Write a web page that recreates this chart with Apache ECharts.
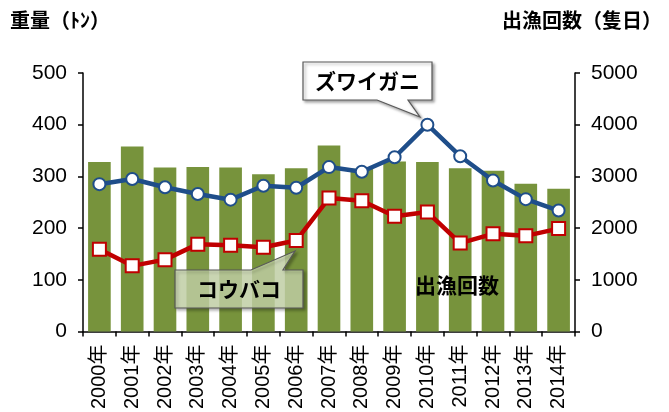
<!DOCTYPE html>
<html>
<head>
<meta charset="utf-8">
<title>ズワイガニ・コウバコ 重量と出漁回数</title>
<script src="https://cdn.jsdelivr.net/npm/echarts@6/dist/echarts.min.js"></script>
<style>body{margin:0;background:#fff}</style>
</head>
<body>
<div id="main" style="width:669px;height:412px;"></div>
<script>
// 年
var years = ['2000年','2001年','2002年','2003年','2004年','2005年','2006年','2007年',
             '2008年','2009年','2010年','2011年','2012年','2013年','2014年'];
// 重量（ﾄﾝ）
var zuwaigani = [285, 295, 279, 266, 255, 282, 278, 318, 309, 337, 400, 339, 292, 256, 234];
var koubako   = [159, 127, 139, 169, 167, 163, 176, 258, 253, 223, 231, 171, 189, 185, 199];
// 出漁回数（隻日）
var shutsuryo = [3280, 3580, 3170, 3180, 3170, 3040, 3160, 3600, 3150, 3290, 3280, 3160, 3110, 2860, 2760];

var numFont = 'Liberation Sans, Arial, sans-serif';
var jpFont = '"Noto Sans CJK JP", sans-serif';

var myChart = echarts.init(document.getElementById('main'));

myChart.setOption({
    animation: false,
    grid: { left: 83, right: 94, top: 73, bottom: 80 },
    xAxis: {
        type: 'category',
        data: years,
        axisLine: { lineStyle: { color: '#000', width: 1.5 } },
        axisTick: { show: true, length: 5, lineStyle: { color: '#000', width: 1.5 } },
        axisLabel: {
            interval: 0, rotate: 90, margin: 13,
            color: '#000', fontSize: 20,
            fontFamily: 'Liberation Sans, "Noto Sans CJK JP", sans-serif',
            padding: [0, 0, 7, 0]
        }
    },
    yAxis: [{
        type: 'value', min: 0, max: 500, interval: 100,
        splitLine: { show: false },
        axisLine: { show: true, lineStyle: { color: '#000', width: 1.5 } },
        axisTick: { show: true, length: 5, lineStyle: { color: '#000', width: 1.5 } },
        axisLabel: { color: '#000', fontSize: 21, fontFamily: numFont, margin: 16 }
    }, {
        type: 'value', min: 0, max: 5000, interval: 1000,
        splitLine: { show: false },
        axisLine: { show: true, lineStyle: { color: '#000', width: 1.5 } },
        axisTick: { show: true, length: 5, lineStyle: { color: '#000', width: 1.5 } },
        axisLabel: {
            color: '#000', fontSize: 21, fontFamily: numFont, margin: 16,
            formatter: function (v) { return String(v); }
        }
    }],
    series: [{
        name: '出漁回数',
        type: 'bar',
        yAxisIndex: 1,
        data: shutsuryo,
        barCategoryGap: '31%',
        itemStyle: { color: '#77933C' },
        z: 1
    }, {
        name: 'ズワイガニ',
        type: 'line',
        data: zuwaigani,
        symbol: 'circle',
        symbolSize: 12,
        lineStyle: { color: '#1F4E8A', width: 4.5 },
        itemStyle: { color: '#fff', borderColor: '#1F4E8A', borderWidth: 2 },
        z: 3
    }, {
        name: 'コウバコ',
        type: 'line',
        data: koubako,
        symbol: 'rect',
        symbolSize: 13,
        lineStyle: { color: '#C00000', width: 4.5 },
        itemStyle: { color: '#fff', borderColor: '#C00000', borderWidth: 2 },
        z: 3
    }],
    graphic: [
        { type: 'text', left: 10, top: 10, z: 10,
          style: { text: '重量（ﾄﾝ）', fontSize: 20, fontWeight: 'bold', fontFamily: jpFont, fill: '#000' } },
        { type: 'text', right: 7, top: 10, z: 10,
          style: { text: '出漁回数（隻日）', fontSize: 20, fontWeight: 'bold', fontFamily: jpFont, fill: '#000' } },
        // ズワイガニ callout
        { type: 'polygon', z: 20,
          shape: { points: [[303, 62], [432, 62], [432, 100], [408, 100], [420, 117], [377, 100], [303, 100]] },
          style: { fill: '#fff', stroke: '#595959', lineWidth: 1.2,
                   shadowBlur: 3, shadowOffsetX: 2, shadowOffsetY: 2, shadowColor: 'rgba(0,0,0,0.35)' } },
        { type: 'text', z: 21, x: 367.5, y: 81,
          style: { text: 'ズワイガニ', fontSize: 21, fontWeight: 'bold', fontFamily: jpFont, fill: '#000',
                   align: 'center', verticalAlign: 'middle' } },
        // コウバコ callout
        { type: 'polygon', z: 20,
          shape: { points: [[175, 270], [251, 270], [295, 251], [283, 270], [303, 270], [303, 308], [175, 308]] },
          style: { fill: 'rgba(205,220,175,0.78)', stroke: '#595959', lineWidth: 1.2,
                   shadowBlur: 3, shadowOffsetX: 2, shadowOffsetY: 2, shadowColor: 'rgba(0,0,0,0.35)' } },
        { type: 'text', z: 21, x: 239, y: 289,
          style: { text: 'コウバコ', fontSize: 21, fontWeight: 'bold', fontFamily: jpFont, fill: '#000',
                   align: 'center', verticalAlign: 'middle' } },
        { type: 'text', z: 21, x: 457, y: 285,
          style: { text: '出漁回数', fontSize: 21, fontWeight: 'bold', fontFamily: jpFont, fill: '#000',
                   align: 'center', verticalAlign: 'middle' } }
    ]
});
</script>
</body>
</html>
